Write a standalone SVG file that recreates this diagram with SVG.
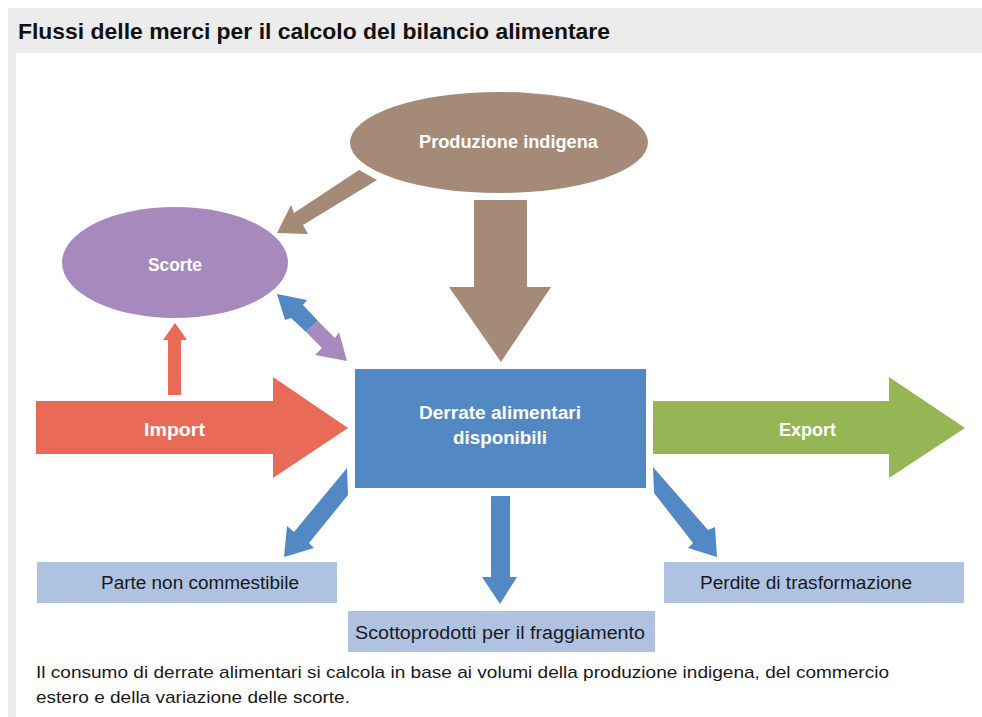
<svg xmlns="http://www.w3.org/2000/svg" width="982" height="717" viewBox="0 0 982 717">
<style>
text{font-family:"Liberation Sans",Arial,sans-serif}
.lbl{font-weight:bold;font-size:18px;fill:#ffffff;text-anchor:middle}
.box{fill:#AFC2E1}
.btxt{font-size:18px;fill:#1a1a1a;text-anchor:middle}
.blue{fill:#5289C4}
.brown{fill:#A48A77}
.purple{fill:#A78ABD}
.red{fill:#E96A57}
.green{fill:#96B554}
.cap{font-size:17px;fill:#1a1a1a}
</style>
<rect x="0" y="0" width="982" height="717" fill="#ffffff"/>
<rect x="8" y="8" width="974" height="45" fill="#EBECEB"/>
<rect x="8" y="53" width="8" height="664" fill="#EBECEB"/>
<text x="18" y="39" font-size="22" font-weight="bold" fill="#111111" textLength="592" lengthAdjust="spacingAndGlyphs">Flussi delle merci per il calcolo del bilancio alimentare</text>

<g id="connectors">
  <polygon class="brown" points="359,170 294,213 291,205 277,233 308,234 303,225 377,180"/>
  <polygon class="brown" points="474,200 527,200 527,287 551,287 501,362 449,287 474,287"/>
  <polygon class="red" points="168,395 181,395 181,340 187,340 175,323 163,340 168,340"/>
  <polygon class="blue" points="277,294 307,300 303,305 318,321 306,332 291,318 285,320"/>
  <polygon class="purple" points="306,332 318,321 335,338 339,332 347,361 315,355 322,348"/>
  <polygon class="blue" points="347,468 294,532 287,526 284,557 314,548 309,543 348,495"/>
  <polygon class="blue" points="491,496 510,496 510,577 517,577 500,604 482,577 491,577"/>
  <polygon class="blue" points="653,467 708,530 715,527 717,557 688,548 693,543 654,493"/>
</g>

<g id="produzione">
  <ellipse cx="499" cy="142.5" rx="149" ry="50.5" class="brown"/>
  <text x="508.5" y="148" class="lbl" textLength="179" lengthAdjust="spacingAndGlyphs">Produzione indigena</text>
</g>
<g id="scorte">
  <ellipse cx="175" cy="262.5" rx="113" ry="55.5" class="purple"/>
  <text x="175" y="271" class="lbl" textLength="54" lengthAdjust="spacingAndGlyphs">Scorte</text>
</g>
<g id="import">
  <polygon class="red" points="36,401 273,401 273,377 348,428 273,478 273,454 36,454"/>
  <text x="174.5" y="436" class="lbl" textLength="61" lengthAdjust="spacingAndGlyphs">Import</text>
</g>
<g id="export">
  <polygon class="green" points="653,401 889,401 889,377 965,428 889,478 889,454 653,454"/>
  <text x="807.5" y="436" class="lbl" textLength="57" lengthAdjust="spacingAndGlyphs">Export</text>
</g>
<g id="derrate">
  <rect x="355" y="369" width="291" height="119" class="blue"/>
  <text x="500" y="419" class="lbl" textLength="162" lengthAdjust="spacingAndGlyphs">Derrate alimentari</text>
  <text x="500" y="444" class="lbl" textLength="94" lengthAdjust="spacingAndGlyphs">disponibili</text>
</g>
<g id="parte">
  <rect x="37" y="562" width="300" height="41" class="box"/>
  <text x="200" y="589" class="btxt" textLength="198" lengthAdjust="spacingAndGlyphs">Parte non commestibile</text>
</g>
<g id="scottoprodotti">
  <rect x="348" y="611" width="307" height="41" class="box"/>
  <text x="500" y="639" class="btxt" textLength="290" lengthAdjust="spacingAndGlyphs">Scottoprodotti per il fraggiamento</text>
</g>
<g id="perdite">
  <rect x="664" y="562" width="300" height="41" class="box"/>
  <text x="806" y="589" class="btxt" textLength="212" lengthAdjust="spacingAndGlyphs">Perdite di trasformazione</text>
</g>

<text x="36" y="678" class="cap" textLength="853" lengthAdjust="spacingAndGlyphs">Il consumo di derrate alimentari si calcola in base ai volumi della produzione indigena, del commercio</text>
<text x="36" y="703" class="cap" textLength="314" lengthAdjust="spacingAndGlyphs">estero e della variazione delle scorte.</text>
</svg>
